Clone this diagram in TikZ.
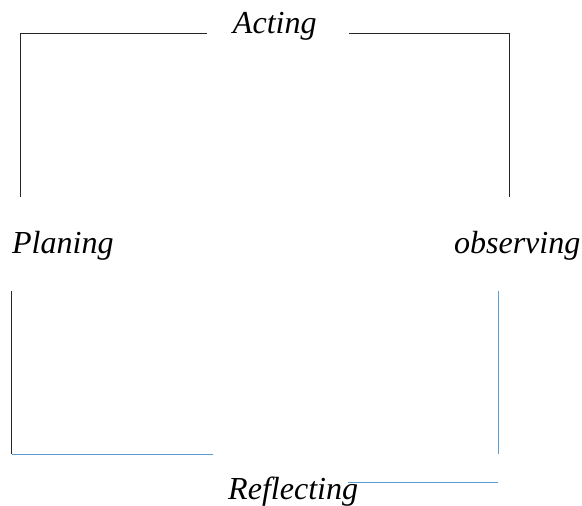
\documentclass[tikz,border=0pt]{standalone}
\usepackage{fontspec}
\setmainfont{Liberation Serif}
\usepackage{tikz}
\definecolor{lineblue}{HTML}{5B9BD5}

\begin{document}
\begin{tikzpicture}[
        stage/.style={font=\fontsize{22.8}{27}\selectfont\itshape, anchor=base, inner sep=0pt},
        blackline/.style={line width=0.7pt, black!85},
        blueline/.style={line width=0.7pt, lineblue}]
        \useasboundingbox (0,0) rectangle (14.55,12.65);

        % Etapes du cycle
        \node[stage] (acting) at (6.87,11.80) {Acting};
        \node[stage] (planing) at (1.57,6.30) {Planing};
        \node[stage] (observing) at (12.93,6.30) {observing};
        \node[stage] (reflecting) at (7.33,0.15) {Reflecting};

        % Extremites des traits
        \coordinate (act-l) at (5.17,11.81);
        \coordinate (act-r) at (8.72,11.81);
        \coordinate (pl-up) at (0.50,7.73);
        \coordinate (pl-down) at (0.29,5.38);
        \coordinate (obs-up) at (12.73,7.73);
        \coordinate (obs-down) at (12.46,5.38);
        \coordinate (ref-l) at (5.33,1.30);
        \coordinate (ref-r) at (8.70,0.60);

        % Planing -> Acting -> observing
        \draw[blackline] (pl-up) |- (act-l);
        \draw[blackline] (act-r) -| (obs-up);

        % observing -> Reflecting -> Planing
        \draw[blueline] (obs-down) -- (obs-down |- ref-l);
        \draw[blueline] (ref-r) -- (ref-r -| obs-down);
        \draw[blackline] (pl-down) -- (pl-down |- ref-l);
        \draw[blueline] (pl-down |- ref-l) -- (ref-l);

    \end{tikzpicture}
\end{document}
